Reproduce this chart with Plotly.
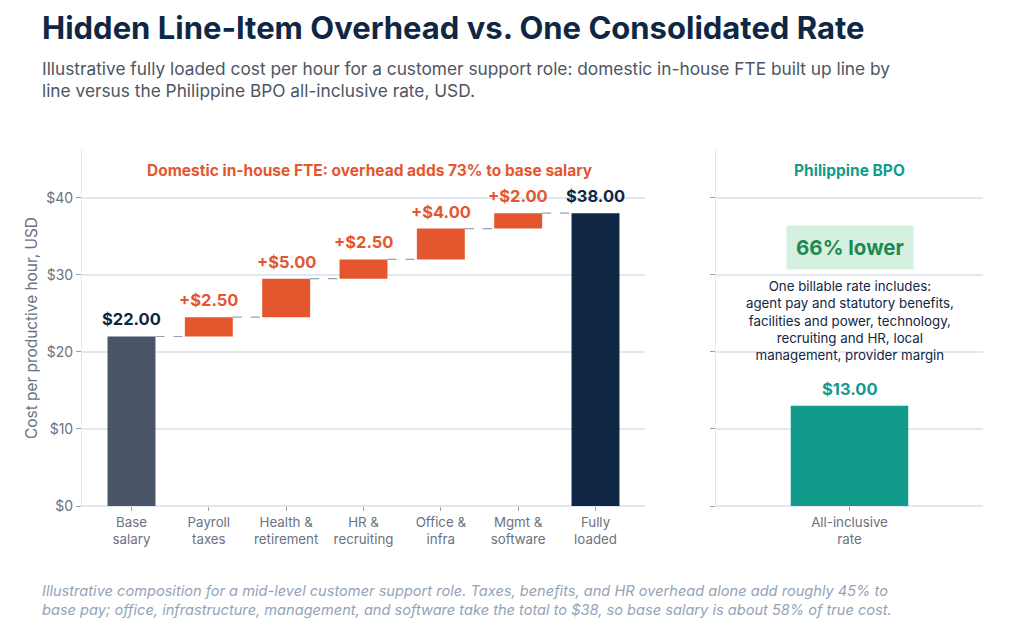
import plotly.graph_objects as go
from plotly.subplots import make_subplots

# waterfall data (domestic in-house FTE, USD per productive hour)
steps = ['Base<br>salary', 'Payroll<br>taxes', 'Health &<br>retirement', 'HR &<br>recruiting',
         'Office &<br>infra', 'Mgmt &<br>software', 'Fully<br>loaded']
step_values = [22.0, 2.5, 5.0, 2.5, 4.0, 2.0, 38.0]
step_kind = ['start', 'add', 'add', 'add', 'add', 'add', 'total']

bpo_labels = ['All-inclusive<br>rate']
bpo_values = [13.0]

y_ticks = [0, 10, 20, 30, 40]
y_tick_text = ['$%d' % v for v in y_ticks]

FONT = 'Inter'
NAVY = '#0f2744'
SLATE = '#4a5568'
ORANGE = '#e4572e'
TEAL = '#129b8b'
GRID = '#e2e8f0'
GREY = '#6b7280'

# page body adds an 8px offset, so target positions are given in screen px minus OFF
OFF = 8
W, H = 1024, 632
ML, MR, MT, MB = 82 - OFF, 41 + OFF, 150 - OFF, 126 + OFF


def px(x):
    return (x - OFF - ML) / (W - ML - MR)


def py(y):
    return (H - MB - (y - OFF)) / (H - MT - MB)


# bases + tops for the floating bars
bases, tops = [], []
running = 0
for v, k in zip(step_values, step_kind):
    if k == 'add':
        bases.append(running)
        running += v
    else:
        bases.append(0)
        running = v
    tops.append(running)
heights = [t - b for t, b in zip(tops, bases)]

colors = {'start': SLATE, 'add': ORANGE, 'total': NAVY}
bar_colors = [colors[k] for k in step_kind]
text_colors = [NAVY if k != 'add' else ORANGE for k in step_kind]
labels = ['+$%.2f' % v if k == 'add' else '$%.2f' % v for v, k in zip(step_values, step_kind)]

fig = make_subplots(rows=1, cols=2, horizontal_spacing=0.0)

fig.add_trace(go.Bar(
    x=steps, y=heights, base=bases, width=0.62,
    marker=dict(color=bar_colors, line=dict(width=0)),
    hoverinfo='skip', showlegend=False), row=1, col=1)

fig.add_trace(go.Bar(
    x=bpo_labels, y=bpo_values, width=0.44,
    marker=dict(color=TEAL, line=dict(width=0)),
    hoverinfo='skip', showlegend=False), row=1, col=2)

# value labels above bars
for s, t, lab, c in zip(steps, tops, labels, text_colors):
    fig.add_annotation(x=s, y=t, xref='x', yref='y', text='<b>%s</b>' % lab, showarrow=False,
                       yanchor='bottom', yshift=5, font=dict(family=FONT, size=16.5, color=c))
for s, v in zip(bpo_labels, bpo_values):
    fig.add_annotation(x=s, y=v, xref='x2', yref='y2', text='<b>$%.2f</b>' % v, showarrow=False,
                       yanchor='bottom', yshift=5, font=dict(family=FONT, size=16.5, color=TEAL))

# dashed connectors between consecutive bars
for i in range(len(steps) - 1):
    fig.add_shape(type='line', xref='x', yref='y',
                  x0=i + 0.31, x1=i + 1 - 0.31, y0=tops[i], y1=tops[i],
                  line=dict(color='#94a3b8', width=1.2, dash='dash'))

axis_font = dict(family=FONT, size=13.3, color=GREY)
fig.update_xaxes(showgrid=False, ticks='outside', ticklen=4, tickcolor='#94a3b8',
                 tickfont=axis_font, showline=False, fixedrange=True)
fig.update_xaxes(domain=[0, px(645)], range=[-0.64, 6.64], row=1, col=1)
fig.update_xaxes(domain=[px(716), 1], range=[-0.5, 0.5], row=1, col=2)

fig.update_yaxes(range=[0, 46.2], tickvals=y_ticks, gridcolor=GRID, gridwidth=1.5,
                 zeroline=True, zerolinecolor=GRID, zerolinewidth=1.5,
                 showline=True, linecolor=GRID, linewidth=1,
                 ticks='outside', ticklen=5, tickcolor='#94a3b8')
fig.update_yaxes(ticktext=y_tick_text, tickfont=dict(family=FONT, size=14, color=GREY),
                 title=dict(text='Cost per productive hour, USD',
                            font=dict(family=FONT, size=15.4, color=GREY), standoff=4),
                 row=1, col=1)
fig.update_yaxes(showticklabels=False, row=1, col=2)

ann = [
    dict(text='<b>Hidden Line-Item Overhead vs. One Consolidated Rate</b>',
         x=40, y=28, font=dict(family=FONT, size=31, color=NAVY)),
    dict(text='Illustrative fully loaded cost per hour for a customer support role: domestic in-house FTE built up line by<br>'
              'line versus the Philippine BPO all-inclusive rate, USD.',
         x=40, y=79, font=dict(family=FONT, size=17.3, color='#4b5563')),
    dict(text='<i>Illustrative composition for a mid-level customer support role. Taxes, benefits, and HR overhead alone add roughly 45% to<br>'
              'base pay; office, infrastructure, management, and software take the total to $38, so base salary is about 58% of true cost.</i>',
         x=40, y=600, font=dict(family=FONT, size=14.6, color='#94a3b8')),
]
for a in ann:
    fig.add_annotation(text=a['text'], xref='paper', yref='paper', x=px(a['x']), y=py(a['y']),
                       xanchor='left', yanchor='middle', align='left', showarrow=False, font=a['font'])

# panel headers
fig.add_annotation(text='<b>Domestic in-house FTE: overhead adds 73% to base salary</b>',
                   xref='x domain', yref='paper', x=0.511, y=py(170), yanchor='middle', showarrow=False,
                   font=dict(family=FONT, size=15.5, color=ORANGE))
fig.add_annotation(text='<b>Philippine BPO</b>', xref='x2 domain', yref='paper', x=0.5, y=py(170),
                   yanchor='middle', showarrow=False, font=dict(family=FONT, size=15.5, color=TEAL))

fig.add_annotation(text='<b>66% lower</b>', xref='x2 domain', yref='paper', x=0.5, y=py(247),
                   yanchor='middle', showarrow=False, font=dict(family=FONT, size=20.5, color='#1e8a52'),
                   bgcolor='#d6f0e0', borderpad=9)
fig.add_annotation(text='One billable rate includes:<br>agent pay and statutory benefits,<br>'
                        'facilities and power, technology,<br>recruiting and HR, local<br>management, provider margin',
                   xref='x2 domain', yref='paper', x=0.5, y=py(320), yanchor='middle', showarrow=False,
                   font=dict(family=FONT, size=13.3, color=NAVY), align='center')

fig.update_layout(width=W, height=H, margin=dict(l=ML, r=MR, t=MT, b=MB),
                  paper_bgcolor='white', plot_bgcolor='white',
                  font=dict(family=FONT))

fig.write_html('out.html')
